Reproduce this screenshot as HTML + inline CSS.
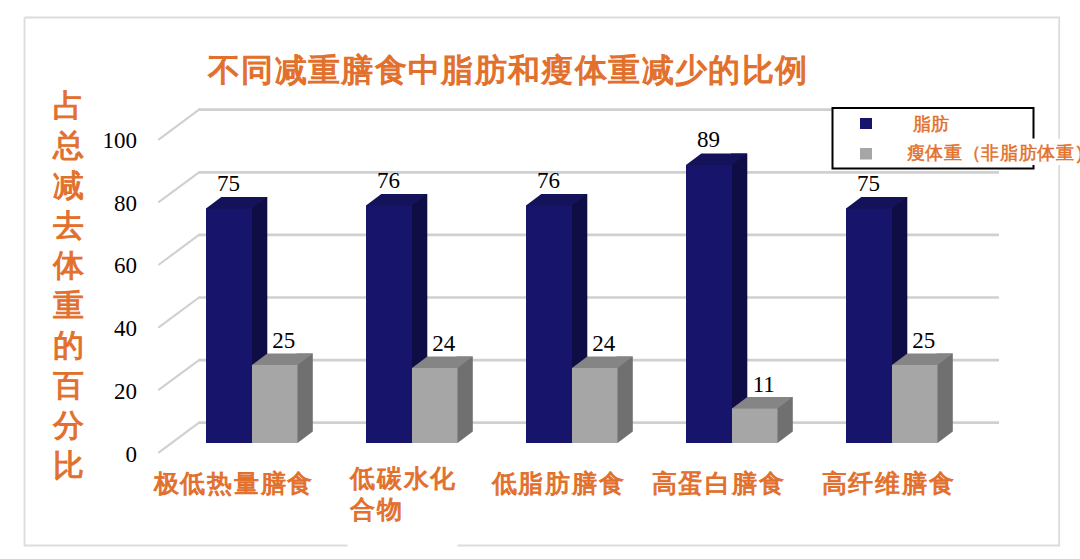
<!DOCTYPE html>
<html><head><meta charset="utf-8">
<style>
html,body{margin:0;padding:0;background:#fff;width:1080px;height:559px;overflow:hidden;}
#c{position:absolute;left:0;top:0;width:1080px;height:559px;}
svg{position:absolute;left:0;top:0;}
.num{font-family:"Liberation Serif",serif;font-size:23px;fill:#000;}
.t{position:absolute;font-family:"Liberation Sans",sans-serif;color:#e2702c;white-space:nowrap;line-height:1;font-weight:400;}
</style></head>
<body><div id="c">
<svg width="1080" height="559" viewBox="0 0 1080 559">
<path d="M24.5,17.5 H1059.2 V545.5 H457.5 M347.5,545.5 H24.5 V17.5" fill="none" stroke="#dcdcdc" stroke-width="1.8"/>
<line x1="159" y1="139.3" x2="199" y2="109.7" stroke="#d0d0d0" stroke-width="2.1" stroke-linecap="round"/>
<line x1="198.5" y1="109.7" x2="999" y2="109.7" stroke="#d0d0d0" stroke-width="2.7"/>
<line x1="159" y1="201.9" x2="199" y2="172.3" stroke="#d0d0d0" stroke-width="2.1" stroke-linecap="round"/>
<line x1="198.5" y1="172.3" x2="999" y2="172.3" stroke="#d0d0d0" stroke-width="2.7"/>
<line x1="159" y1="264.5" x2="199" y2="234.9" stroke="#d0d0d0" stroke-width="2.1" stroke-linecap="round"/>
<line x1="198.5" y1="234.9" x2="999" y2="234.9" stroke="#d0d0d0" stroke-width="2.7"/>
<line x1="159" y1="327.1" x2="199" y2="297.5" stroke="#d0d0d0" stroke-width="2.1" stroke-linecap="round"/>
<line x1="198.5" y1="297.5" x2="999" y2="297.5" stroke="#d0d0d0" stroke-width="2.7"/>
<line x1="159" y1="389.7" x2="199" y2="360.1" stroke="#d0d0d0" stroke-width="2.1" stroke-linecap="round"/>
<line x1="198.5" y1="360.1" x2="999" y2="360.1" stroke="#d0d0d0" stroke-width="2.7"/>
<line x1="159" y1="452.3" x2="199" y2="422.7" stroke="#d0d0d0" stroke-width="2.1" stroke-linecap="round"/>
<line x1="198.5" y1="422.7" x2="999" y2="422.7" stroke="#d0d0d0" stroke-width="2.7"/>
<polygon points="251.0,197.1 267.3,197.1 267.3,431.5 252.0,443.0 251.0,443.0" fill="#0f0d46"/>
<polygon points="206.0,209.6 206.0,208.6 221.3,197.1 267.3,197.1 252.0,208.6 252.0,209.6" fill="#141258"/>
<rect x="206.0" y="208.6" width="46.0" height="234.4" fill="#17156b"/>
<polygon points="296.5,353.4 312.8,353.4 312.8,431.5 297.5,443.0 296.5,443.0" fill="#707070"/>
<polygon points="252.0,365.9 252.0,364.9 267.3,353.4 312.8,353.4 297.5,364.9 297.5,365.9" fill="#858585"/>
<rect x="252.0" y="364.9" width="45.5" height="78.1" fill="#a6a6a6"/>
<polygon points="411.0,194.0 427.3,194.0 427.3,431.5 412.0,443.0 411.0,443.0" fill="#0f0d46"/>
<polygon points="366.0,206.5 366.0,205.5 381.3,194.0 427.3,194.0 412.0,205.5 412.0,206.5" fill="#141258"/>
<rect x="366.0" y="205.5" width="46.0" height="237.5" fill="#17156b"/>
<polygon points="456.5,356.5 472.8,356.5 472.8,431.5 457.5,443.0 456.5,443.0" fill="#707070"/>
<polygon points="412.0,369.0 412.0,368.0 427.3,356.5 472.8,356.5 457.5,368.0 457.5,369.0" fill="#858585"/>
<rect x="412.0" y="368.0" width="45.5" height="75.0" fill="#a6a6a6"/>
<polygon points="571.0,194.0 587.3,194.0 587.3,431.5 572.0,443.0 571.0,443.0" fill="#0f0d46"/>
<polygon points="526.0,206.5 526.0,205.5 541.3,194.0 587.3,194.0 572.0,205.5 572.0,206.5" fill="#141258"/>
<rect x="526.0" y="205.5" width="46.0" height="237.5" fill="#17156b"/>
<polygon points="616.5,356.5 632.8,356.5 632.8,431.5 617.5,443.0 616.5,443.0" fill="#707070"/>
<polygon points="572.0,369.0 572.0,368.0 587.3,356.5 632.8,356.5 617.5,368.0 617.5,369.0" fill="#858585"/>
<rect x="572.0" y="368.0" width="45.5" height="75.0" fill="#a6a6a6"/>
<polygon points="731.0,153.4 747.3,153.4 747.3,431.5 732.0,443.0 731.0,443.0" fill="#0f0d46"/>
<polygon points="686.0,165.9 686.0,164.9 701.3,153.4 747.3,153.4 732.0,164.9 732.0,165.9" fill="#141258"/>
<rect x="686.0" y="164.9" width="46.0" height="278.1" fill="#17156b"/>
<polygon points="776.5,397.1 792.8,397.1 792.8,431.5 777.5,443.0 776.5,443.0" fill="#707070"/>
<polygon points="732.0,409.6 732.0,408.6 747.3,397.1 792.8,397.1 777.5,408.6 777.5,409.6" fill="#858585"/>
<rect x="732.0" y="408.6" width="45.5" height="34.4" fill="#a6a6a6"/>
<polygon points="891.0,197.1 907.3,197.1 907.3,431.5 892.0,443.0 891.0,443.0" fill="#0f0d46"/>
<polygon points="846.0,209.6 846.0,208.6 861.3,197.1 907.3,197.1 892.0,208.6 892.0,209.6" fill="#141258"/>
<rect x="846.0" y="208.6" width="46.0" height="234.4" fill="#17156b"/>
<polygon points="936.5,353.4 952.8,353.4 952.8,431.5 937.5,443.0 936.5,443.0" fill="#707070"/>
<polygon points="892.0,365.9 892.0,364.9 907.3,353.4 952.8,353.4 937.5,364.9 937.5,365.9" fill="#858585"/>
<rect x="892.0" y="364.9" width="45.5" height="78.1" fill="#a6a6a6"/>
<text x="228.5" y="191.1" text-anchor="middle" class="num">75</text>
<text x="283.8" y="348.2" text-anchor="middle" class="num">25</text>
<text x="388.5" y="188.0" text-anchor="middle" class="num">76</text>
<text x="443.8" y="351.3" text-anchor="middle" class="num">24</text>
<text x="548.5" y="188.0" text-anchor="middle" class="num">76</text>
<text x="603.8" y="351.3" text-anchor="middle" class="num">24</text>
<text x="708.5" y="147.4" text-anchor="middle" class="num">89</text>
<text x="763.8" y="391.9" text-anchor="middle" class="num">11</text>
<text x="868.5" y="191.1" text-anchor="middle" class="num">75</text>
<text x="923.8" y="348.2" text-anchor="middle" class="num">25</text>
<text x="137" y="147.7" text-anchor="end" class="num">100</text>
<text x="137" y="210.5" text-anchor="end" class="num">80</text>
<text x="137" y="273.3" text-anchor="end" class="num">60</text>
<text x="137" y="336.1" text-anchor="end" class="num">40</text>
<text x="137" y="398.9" text-anchor="end" class="num">20</text>
<text x="137" y="461.7" text-anchor="end" class="num">0</text>
<rect x="832.5" y="108" width="201" height="60.5" fill="#fff"/>
<path d="M1033.5,138.5 V108 H832.5 V168.5 H1033.5 V165" fill="none" stroke="#000" stroke-width="2"/>
<rect x="860" y="118" width="12" height="11" fill="#17156b"/>
<rect x="860" y="148" width="12" height="11.5" fill="#a6a6a6"/>
</svg>
<div class="t" style="left:208px;top:54px;font-size:32px;letter-spacing:1.35px;-webkit-text-stroke:1.2px #e2702c;">不同减重膳食中脂肪和瘦体重减少的比例</div>
<div class="t" style="left:52.5px;top:86px;font-size:31px;letter-spacing:0px;-webkit-text-stroke:1.0px #e2702c;width:34px;line-height:40px;white-space:normal;">占总减去体重的百分比</div>
<div class="t" style="left:153.5px;top:472px;font-size:24.5px;letter-spacing:1.8px;-webkit-text-stroke:1.0px #e2702c;">极低热量膳食</div>
<div class="t" style="left:350px;top:462.75px;font-size:24.5px;letter-spacing:1.8px;-webkit-text-stroke:1.0px #e2702c;line-height:31.5px;">低碳水化<br>合物</div>
<div class="t" style="left:491.5px;top:472px;font-size:24.5px;letter-spacing:1.8px;-webkit-text-stroke:1.0px #e2702c;">低脂肪膳食</div>
<div class="t" style="left:651.5px;top:472px;font-size:24.5px;letter-spacing:1.8px;-webkit-text-stroke:1.0px #e2702c;">高蛋白膳食</div>
<div class="t" style="left:821.5px;top:472px;font-size:24.5px;letter-spacing:1.8px;-webkit-text-stroke:1.0px #e2702c;">高纤维膳食</div>
<div class="t" style="left:912.5px;top:114.5px;font-size:18px;letter-spacing:0.7px;-webkit-text-stroke:0.5px #e2702c;">脂肪</div>
<div class="t" style="left:906.5px;top:139px;font-size:18px;letter-spacing:0.7px;-webkit-text-stroke:0.5px #e2702c;background:#fff;padding-top:4.5px;padding-bottom:3.5px;">瘦体重（非脂肪体重<span style="margin-left:2px">)</span></div>
</div></body></html>
